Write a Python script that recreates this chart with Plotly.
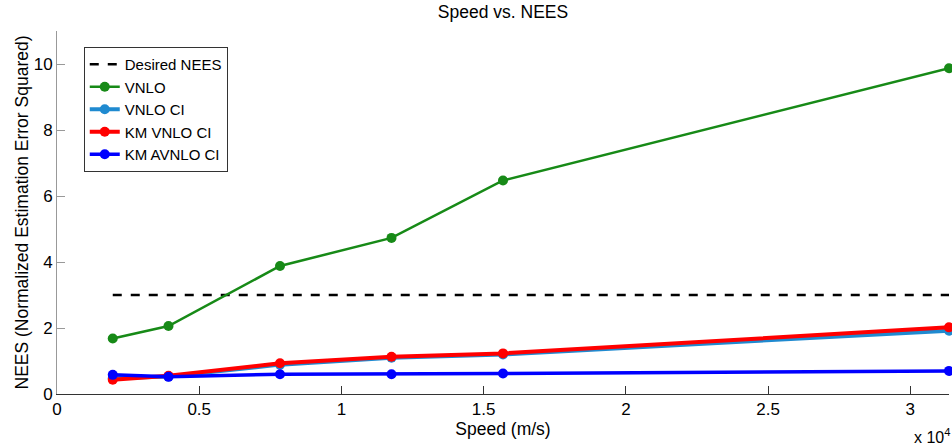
import plotly.graph_objects as go

speeds = [1960, 3920, 7840, 11760, 15680, 31360]
desired_nees = [3, 3, 3, 3, 3, 3]
vnlo = [1.68, 2.06, 3.88, 4.73, 6.47, 9.87]
vnlo_ci = [0.48, 0.53, 0.89, 1.10, 1.20, 1.92]
km_vnlo_ci = [0.43, 0.55, 0.93, 1.13, 1.23, 2.02]
km_avnlo_ci = [0.58, 0.52, 0.60, 0.60, 0.62, 0.70]

x_tickvals = [0, 5000, 10000, 15000, 20000, 25000, 30000]
x_ticktext = ["0", "0.5", "1", "1.5", "2", "2.5", "3"]
y_tickvals = [0, 2, 4, 6, 8, 10]

FONT = "Liberation Sans, Arial, sans-serif"

fig = go.Figure()
fig.add_trace(go.Scatter(x=speeds, y=desired_nees, mode="lines", name="Desired NEES",
                         line=dict(color="black", width=2.5, dash="dash")))
fig.add_trace(go.Scatter(x=speeds, y=vnlo, mode="lines+markers", name="VNLO",
                         line=dict(color="#178a17", width=2.5),
                         marker=dict(size=10, color="#178a17")))
fig.add_trace(go.Scatter(x=speeds, y=vnlo_ci, mode="lines+markers", name="VNLO CI",
                         line=dict(color="#1f8ad0", width=4),
                         marker=dict(size=10, color="#1f8ad0")))
fig.add_trace(go.Scatter(x=speeds, y=km_vnlo_ci, mode="lines+markers", name="KM VNLO CI",
                         line=dict(color="#ff0000", width=4),
                         marker=dict(size=10, color="#ff0000")))
fig.add_trace(go.Scatter(x=speeds, y=km_avnlo_ci, mode="lines+markers", name="KM AVNLO CI",
                         line=dict(color="#0000ff", width=3.5),
                         marker=dict(size=10, color="#0000ff")))
for t in fig.data:
    t.cliponaxis = False

fig.update_layout(
    width=952, height=448,
    margin=dict(l=57, r=3, t=31, b=54, autoexpand=False),
    paper_bgcolor="white", plot_bgcolor="white",
    font=dict(family=FONT, size=17, color="black"),
    title=dict(text="Speed vs. NEES", xref="container", x=503 / 952, xanchor="center",
               yref="container", y=1 - 12 / 448, yanchor="middle", font=dict(size=17.5)),
    showlegend=True,
    legend=dict(x=0.03, y=0.956, xanchor="left", yanchor="top",
                bgcolor="white", bordercolor="#333333", borderwidth=1,
                font=dict(size=15), tracegroupgap=0, itemwidth=30),
    xaxis=dict(range=[0, 31360], tickvals=x_tickvals, ticktext=x_ticktext,
               automargin=False,
               showgrid=False, zeroline=False, showline=True, linecolor="#333333",
               ticks="inside", ticklen=8, tickcolor="#333333",
               title=dict(text="Speed (m/s)", standoff=0, font=dict(size=17.5))),
    yaxis=dict(range=[0, 11], tickvals=y_tickvals,
               automargin=False,
               showgrid=False, zeroline=False, showline=True, linecolor="#999999",
               ticks="inside", ticklen=8, tickcolor="#999999",
               title=dict(text="NEES (Normalized Estimation Error Squared)", standoff=0,
                          font=dict(size=17.5))),
)
fig.add_annotation(text="x 10<sup>4</sup>", xref="paper", yref="paper",
                   x=1.0034, y=-0.116, xanchor="right", yanchor="middle",
                   showarrow=False, font=dict(size=16))
fig.write_html("out.html", config={"displayModeBar": False},
               post_script="document.body.style.margin='0px';document.body.style.overflow='hidden';")
